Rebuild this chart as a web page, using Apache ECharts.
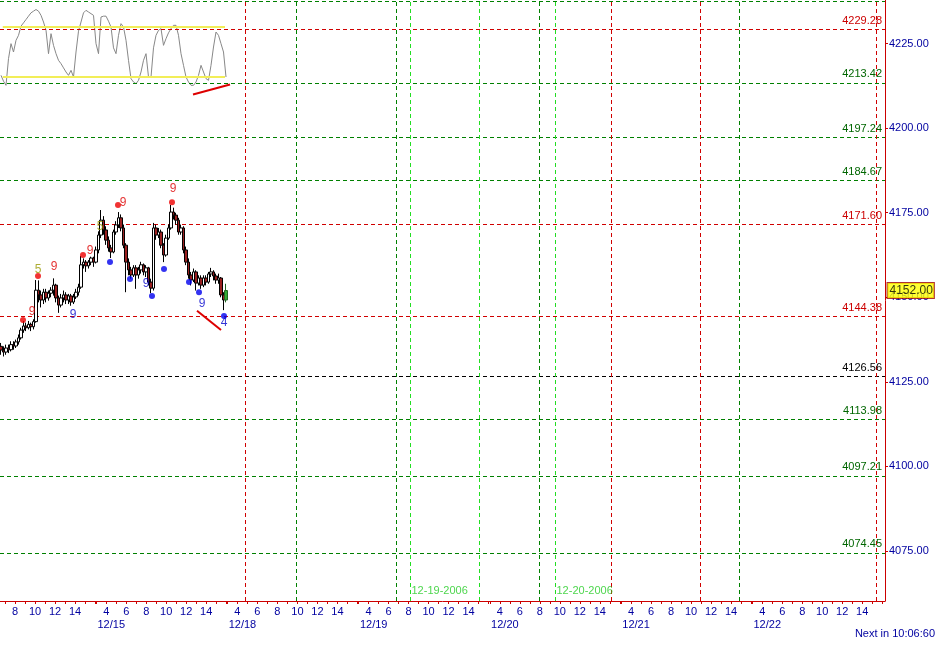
<!DOCTYPE html>
<html><head><meta charset="utf-8">
<script src="https://cdn.jsdelivr.net/npm/echarts@6/dist/echarts.min.js"></script>
<style>html,body{margin:0;padding:0;background:#fff}#c{width:945px;height:661px}</style>
</head><body><div id="c"></div>
<script>
// ---------- data ----------
const dayLabels = ['12/14','12/15','12/18','12/19','12/20','12/21','12/22'];
const hourTicks = [4,6,8,10,12,14];
const sessionHours = 13.12;     // length of one trading session (hours)
const sessionOpen = 3.13;       // session opening hour
const viewStart = [0, 6.5];     // [day index, hour]
const viewEnd = [6, 16.28];
const firstBar = [0, 6.6];      // first 15-minute bar
const barHours = 0.25;

const barOpen  = [4135.5,4134.4,4133.8,4135.0,4134.5,4136.0,4135.6,4136.8,4138.0,4140.3,4141.5,4141.0,4142.0,4141.3,4142.8,4152.1,4150.7,4149.2,4151.5,4149.8,4151.2,4152.1,4153.6,4149.8,4147.7,4149.8,4150.7,4149.2,4150.4,4148.6,4150.1,4151.5,4153.0,4159.6,4160.4,4159.3,4160.4,4161.6,4160.4,4164.0,4168.4,4172.8,4169.9,4166.9,4164.6,4163.4,4169.3,4171.4,4173.5,4170.5,4165.4,4160.4,4158.1,4156.6,4158.7,4156.6,4158.1,4159.6,4157.5,4158.7,4154.5,4152.7,4170.5,4168.4,4169.3,4165.4,4162.5,4167.5,4170.5,4175.2,4174.3,4172.8,4169.3,4170.5,4164.0,4160.4,4156.6,4155.1,4157.5,4154.2,4155.7,4153.6,4155.7,4154.5,4156.9,4157.5,4156.3,4155.1,4155.7,4150.7,4149.2];
const barClose = [4134.4,4133.8,4135.0,4134.5,4136.0,4135.6,4136.8,4138.0,4140.3,4141.5,4141.0,4142.0,4141.3,4142.8,4152.1,4150.7,4149.2,4151.5,4149.8,4151.2,4152.1,4153.6,4149.8,4147.7,4149.8,4150.7,4149.2,4150.4,4148.6,4150.1,4151.5,4153.0,4159.6,4160.4,4159.3,4160.4,4161.6,4160.4,4164.0,4168.4,4172.8,4169.9,4166.9,4164.6,4163.4,4169.3,4171.4,4173.5,4170.5,4165.4,4160.4,4158.1,4156.6,4158.7,4156.6,4158.1,4159.6,4157.5,4158.7,4154.5,4152.7,4170.5,4168.4,4169.3,4165.4,4162.5,4167.5,4170.5,4175.2,4174.3,4172.8,4169.3,4170.5,4164.0,4160.4,4156.6,4155.1,4157.5,4154.2,4155.7,4153.6,4155.7,4154.5,4156.9,4157.5,4156.3,4155.1,4155.7,4150.7,4149.2,4152.0];
const barLow   = [4133.0,4132.5,4133.0,4133.5,4134.0,4134.5,4135.0,4136.0,4137.5,4139.5,4140.0,4140.5,4140.0,4140.5,4142.5,4148.5,4147.0,4148.0,4148.5,4149.0,4150.0,4150.5,4148.5,4145.4,4147.0,4148.5,4148.0,4148.0,4147.5,4148.0,4149.5,4150.5,4152.5,4158.5,4157.5,4158.5,4159.5,4159.0,4160.0,4163.0,4167.5,4168.5,4165.5,4163.5,4161.6,4163.0,4168.5,4170.5,4169.5,4164.5,4151.5,4156.5,4155.5,4156.0,4152.5,4155.5,4157.0,4156.5,4156.0,4153.5,4151.2,4152.0,4167.0,4167.5,4164.5,4160.4,4162.0,4167.0,4170.0,4173.0,4171.5,4168.5,4168.5,4163.0,4159.5,4155.5,4153.5,4154.5,4152.0,4153.5,4152.5,4153.0,4153.5,4154.0,4156.0,4155.0,4154.0,4154.0,4150.0,4146.2,4148.5];
const barHigh  = [4136.5,4135.5,4136.0,4136.0,4137.0,4137.0,4137.5,4139.0,4141.0,4143.0,4142.5,4143.0,4142.5,4143.5,4155.1,4155.0,4152.0,4152.5,4152.5,4152.0,4153.0,4155.6,4154.0,4150.5,4151.0,4152.0,4151.5,4151.0,4151.0,4151.0,4152.5,4154.0,4162.2,4161.5,4161.0,4161.0,4162.0,4162.0,4165.0,4169.5,4175.8,4174.0,4171.0,4168.0,4165.5,4170.0,4172.5,4175.2,4174.5,4171.5,4166.0,4161.5,4159.0,4159.5,4159.5,4159.0,4160.5,4160.0,4159.5,4159.0,4155.5,4172.0,4171.5,4170.5,4170.0,4166.0,4168.5,4171.5,4177.3,4176.5,4175.0,4173.5,4171.5,4171.0,4165.0,4161.5,4157.5,4158.5,4158.0,4156.5,4156.5,4156.5,4156.5,4157.5,4158.7,4158.0,4157.0,4157.0,4156.0,4151.5,4154.0];

const oscValues = [22,15,10,42,60,50,64,70,81,85,89,93,97,99,101,99,94,86,76,48,72,58,48,40,36,31,26,22,28,20,50,75,86,97,100,98,96,94,60,48,92,93,93,87,80,55,48,70,84,80,64,40,18,14,12,16,26,40,48,20,20,55,70,76,78,58,66,73,78,82,82,70,48,34,20,14,10,10,14,22,34,26,18,16,34,56,74,70,60,50,20];
const oscBandLevels = [80, 20];
const oscBandBars = [0.7, 89.6];
const oscDivBars = [76.8, 91.6];
const oscDivValues = [-1, 11];

const priceDivBars = [78.4, 88];
const priceDivValues = [4146.0, 4140.3];

const redDotBars = [8.8, 14.8, 32.8, 46.8, 68.4];
const redDotPrices = [4143.3, 4156.3, 4162.5, 4177.3, 4178.1];
const blueDotBars = [43.6, 51.6, 60.4, 65.2, 75.2, 79.2, 89.2];
const blueDotPrices = [4160.4, 4155.4, 4150.4, 4158.4, 4154.5, 4151.5, 4144.5];
// [bar position, price, text, kind]
const countMarks = [[12.4,4145.6,'9','r'],[14.8,4158.1,'5','o'],[21.2,4159.0,'9','r'],[35.6,4163.7,'9','r'],[39.6,4170.8,'5','o'],[48.8,4177.9,'9','r'],[68.8,4182.0,'9','r'],[28.8,4145.0,'9','b'],[58.0,4153.9,'9','b'],[80.4,4148.0,'9','b'],[89.2,4142.4,'4','b']];

const levelValues = [4237.4, 4229.28, 4213.42, 4197.24, 4184.67, 4171.60, 4144.38, 4126.56, 4113.98, 4097.21, 4074.45];
const levelKinds  = ['green','red','green','green','green','red','red','black','green','green','green'];
const levelShowLabel = [false,true,true,true,true,true,true,true,true,true,true];

// [day index, hour, kind]
const timeLines = [[2,4.83,'red'],[2,9.93,'green'],[3,6.81,'green'],[3,8.14,'lime'],[3,15.07,'lime'],[4,7.92,'green'],[4,9.52,'lime'],[4,15.19,'red'],[5,10.9,'red'],[5,14.83,'green'],[6,15.45,'red']];
const dateNotes = [[3,8.14,'12-19-2006'],[4,9.52,'12-20-2006']];
const dateNotePrice = 4063.2;

const priceTicks = [4075,4100,4125,4150,4175,4200,4225];
const yMin = 4060.2, yMax = 4237.9;
const lastPriceText = '4152.00';
const footerText = 'Next in 10:06:60';

// ---------- helpers ----------
const T = (d, h) => d * sessionHours + h;
const barT = (i) => T(firstBar[0], firstBar[1]) + i * barHours;
const xMin = T(viewStart[0], viewStart[1]);
const xMax = T(viewEnd[0], viewEnd[1]);

const lineColors = {red:'#d00000', green:'#008000', lime:'#22dd22', black:'#000000'};
const textColors = {red:'#cc0000', green:'#006600', black:'#000000'};
const markColors = {r:'#dd0000', o:'#999900', b:'#0000cc'};
const axisBlue = '#0000a0';
const FONT = 'Liberation Sans';

const hourVals = [], hourText = [];
dayLabels.forEach((_, d) => hourTicks.forEach(h => {
  const u = T(d, h);
  if (u >= xMin && u <= xMax) { hourVals.push(u); hourText.push(String(h)); }
}));
const tickVals = [];
dayLabels.forEach((_, d) => { for (let h = 3; h <= 16; h++) { const u = T(d, h); if (u >= xMin && u <= xMax) tickVals.push(u); } });
const openVals = [], openText = [];
dayLabels.forEach((lab, d) => { const u = T(d, sessionOpen); if (u >= xMin && u <= xMax) { openVals.push(u); openText.push(lab); } });
const lookup = (vals, texts) => (v) => { const k = vals.findIndex(x => Math.abs(x - v) < 1e-6); return k >= 0 ? texts[k] : ''; };

const lastIdx = barClose.length - 1;
const candleData = barOpen.map((o, i) => {
  const v = [barT(i), o, barClose[i], barLow[i], barHigh[i]];
  if (i === lastIdx) return {value: v, itemStyle: {color: '#33aa33', borderColor: '#226622'}};
  return v;
});

const levelMarks = levelValues.map((v, k) => ({
  yAxis: v,
  lineStyle: {color: lineColors[levelKinds[k]]},
  label: {show: levelShowLabel[k], formatter: v.toFixed(2), color: textColors[levelKinds[k]]}
}));
const timeMarks = timeLines.map(([d, h, kind]) => ({
  xAxis: T(d, h), lineStyle: {color: lineColors[kind]}, label: {show: false}
}));

const chart = echarts.init(document.getElementById('c'), null, {renderer: 'canvas'});
chart.setOption({
  animation: false,
  backgroundColor: '#ffffff',
  textStyle: {fontFamily: FONT},
  grid: [
    {left: 0, right: 60, top: 0, bottom: 60},
    {left: 0, right: 60, top: 2, height: 100}
  ],
  xAxis: [
    {type: 'value', gridIndex: 0, min: xMin, max: xMax, position: 'bottom',
     axisLine: {show: true, lineStyle: {color: '#cc0000', width: 1}},
     axisTick: {show: true, customValues: tickVals, length: 3, lineStyle: {color: '#cc0000'}},
     axisLabel: {customValues: hourVals, formatter: lookup(hourVals, hourText), color: axisBlue, fontSize: 11, fontFamily: FONT, margin: 5},
     splitLine: {show: false}},
    {type: 'value', gridIndex: 0, min: xMin, max: xMax, position: 'bottom',
     axisLine: {show: false}, axisTick: {show: false},
     axisLabel: {customValues: openVals, formatter: lookup(openVals, openText), color: axisBlue, fontSize: 11, fontFamily: FONT, margin: 18, align: 'left'},
     splitLine: {show: false}},
    {type: 'value', gridIndex: 1, min: xMin, max: xMax, show: false}
  ],
  yAxis: [
    {type: 'value', gridIndex: 0, position: 'right', min: yMin, max: yMax, scale: true,
     axisLine: {show: true, lineStyle: {color: '#cc0000'}},
     axisTick: {show: true, customValues: priceTicks, length: 3, lineStyle: {color: '#cc0000'}},
     axisLabel: {customValues: priceTicks, formatter: v => v.toFixed(2), color: axisBlue, fontSize: 11, fontFamily: FONT, margin: 4},
     splitLine: {show: false}},
    {type: 'value', gridIndex: 1, min: -10, max: 110, show: false}
  ],
  series: [
    {type: 'line', xAxisIndex: 0, yAxisIndex: 0, data: [], z: 1,
     markLine: {silent: true, symbol: 'none', animation: false,
       lineStyle: {width: 1, type: [4, 3]},
       label: {position: 'insideEndTop', distance: 3, fontSize: 11, fontFamily: FONT},
       data: levelMarks.concat(timeMarks)}},
    {type: 'line', xAxisIndex: 2, yAxisIndex: 1, z: 2, symbol: 'none',
     lineStyle: {color: '#888888', width: 1},
     data: oscValues.map((v, i) => [barT(i), v])},
    ...oscBandLevels.map(lv => ({type: 'line', xAxisIndex: 2, yAxisIndex: 1, z: 2, symbol: 'none',
     lineStyle: {color: '#f2ee58', width: 2},
     data: oscBandBars.map(b => [barT(b), lv])})),
    {type: 'line', xAxisIndex: 2, yAxisIndex: 1, z: 3, symbol: 'none', clip: false,
     lineStyle: {color: '#dd0000', width: 2},
     data: oscDivBars.map((b, k) => [barT(b), oscDivValues[k]])},
    {type: 'candlestick', xAxisIndex: 0, yAxisIndex: 0, z: 5, barWidth: 3,
     encode: {x: 0, y: [1, 2, 3, 4]},
     itemStyle: {color: '#ffffff', color0: '#9a2020', borderColor: '#000000', borderColor0: '#000000', borderWidth: 1},
     data: candleData},
    {type: 'line', xAxisIndex: 0, yAxisIndex: 0, z: 6, symbol: 'none',
     lineStyle: {color: '#dd0000', width: 2},
     data: priceDivBars.map((b, k) => [barT(b), priceDivValues[k]])},
    {type: 'scatter', xAxisIndex: 0, yAxisIndex: 0, z: 7, symbolSize: 6,
     itemStyle: {color: '#ee0000'},
     data: redDotBars.map((b, k) => [barT(b), redDotPrices[k]])},
    {type: 'scatter', xAxisIndex: 0, yAxisIndex: 0, z: 7, symbolSize: 6,
     itemStyle: {color: '#0000ee'},
     data: blueDotBars.map((b, k) => [barT(b), blueDotPrices[k]])},
    {type: 'scatter', xAxisIndex: 0, yAxisIndex: 0, z: 8, symbolSize: 1,
     itemStyle: {color: 'rgba(0,0,0,0)'},
     label: {show: true, position: 'inside', fontSize: 12, fontFamily: FONT,
       formatter: p => p.data.txt},
     data: countMarks.map(([b, pr, t, k]) => ({value: [barT(b), pr], txt: t, label: {color: markColors[k]}}))},
    {type: 'scatter', xAxisIndex: 0, yAxisIndex: 0, z: 8, symbolSize: 1,
     itemStyle: {color: 'rgba(0,0,0,0)'},
     label: {show: true, position: 'right', distance: 1, color: '#22cc22', fontSize: 11, fontFamily: FONT,
       formatter: p => p.data.txt},
     data: dateNotes.map(([d, h, t]) => ({value: [T(d, h), dateNotePrice], txt: t}))},
    {type: 'scatter', xAxisIndex: 0, yAxisIndex: 0, z: 9, symbolSize: 1, clip: false,
     itemStyle: {color: 'rgba(0,0,0,0)'},
     label: {show: true, position: 'right', distance: 2, formatter: lastPriceText,
       color: '#000000', fontSize: 12, fontFamily: FONT,
       backgroundColor: '#ffff00', borderColor: '#990000', borderWidth: 1, padding: [2, 1, 1, 2]},
     data: [[xMax, barClose[lastIdx]]]}
  ],
  graphic: [
    {type: 'text', right: 10, top: 628,
     style: {text: footerText, fill: axisBlue, font: '11px "Liberation Sans"'}}
  ]
});
</script></body></html>
